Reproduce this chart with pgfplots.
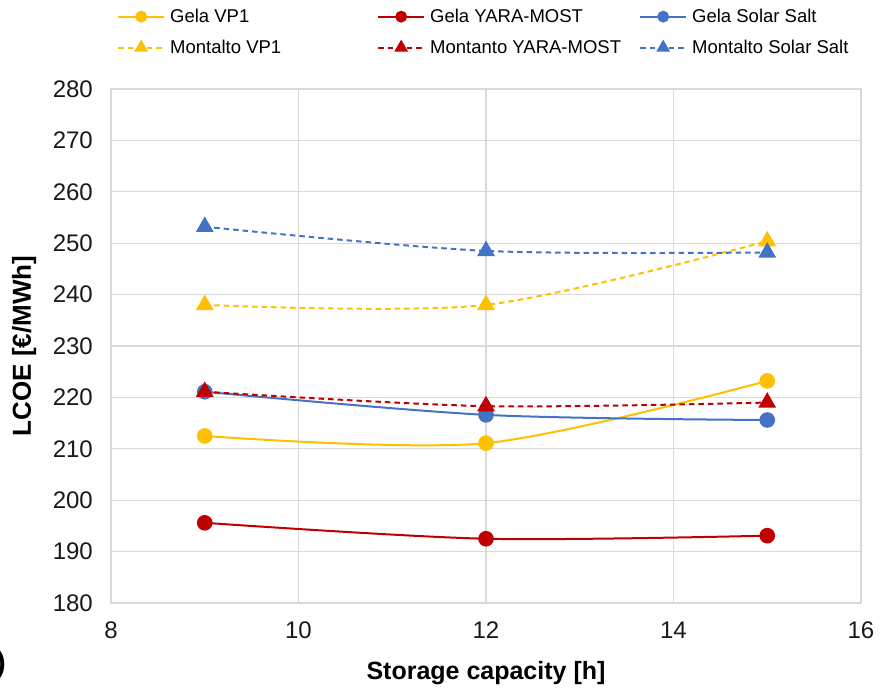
\documentclass[border=0pt]{standalone}
\usepackage{pgfplots}
\pgfplotsset{compat=1.18}
\usepackage{fontspec}
\setmainfont{Liberation Sans}
\definecolor{cgold}{HTML}{FFC000}
\definecolor{cred}{HTML}{C00000}
\definecolor{cblue}{HTML}{4472C4}
\definecolor{cgrid}{HTML}{D9D9D9}
\pgfplotsset{
 sol/.style={line width=2bp, smooth, mark=*, mark size=6.8bp},
 das/.style={line width=2bp, smooth, dash pattern=on 5.5bp off 4bp, mark=triangle*, mark size=8.3bp, mark options={solid}},
}
\begin{document}
\begin{tikzpicture}
\path (-111bp,-86bp) rectangle (769bp,603bp);
\begin{axis}[
 at={(0,0)}, anchor=south west,
 scale only axis, width=750bp, height=514bp,
 xmin=8, xmax=16, ymin=180, ymax=280,
 xtick={8,10,12,14,16}, ytick={180,190,...,280},
 grid=major, major grid style={cgrid, line width=1.2bp},
 axis line style={cgrid, line width=1.2bp},
 major tick length=0pt,
 /pgf/number format/assume math mode=true,
 ticklabel style={font=\fontsize{24bp}{28bp}\selectfont, inner sep=0pt, text=black!90},
 yticklabel style={xshift=-18bp},
 xticklabel style={yshift=-19bp},
 xlabel={\textbf{Storage capacity [h]}},
 ylabel={\textbf{LCOE [€/MWh]}},
 xlabel style={font=\fontsize{25bp}{30bp}\selectfont, at={(axis description cs:0.5,-0.1498)}, anchor=base, inner sep=0pt},
 ylabel style={font=\fontsize{26bp}{30bp}\selectfont, at={(axis description cs:-0.10667,0.5)}, anchor=base, inner sep=0pt},
 legend columns=3,
 legend style={draw=none, fill=none, at={(axis description cs:0.008,1.1556)}, anchor=north west, inner sep=0pt, nodes={inner sep=0pt}, font=\fontsize{18.5bp}{22bp}\selectfont, row sep=16bp, column sep=0pt},
 legend cell align=left,
 legend image code/.code={\draw[mark repeat=2,mark phase=2, every mark/.append style={scale=0.72}] plot coordinates {(0bp,0bp) (23bp,0bp) (46bp,0bp)};},
]
\addplot[cgold, sol] coordinates {(9,212.5) (12,211.1) (15,223.2)};
\addlegendentry{\hspace*{5bp}\makebox[207bp][l]{Gela VP1}}
\addplot[cred, sol] coordinates {(9,195.6) (12,192.5) (15,193.1)};
\addlegendentry{\hspace*{5bp}\makebox[209bp][l]{Gela YARA-MOST}}
\addplot[cblue, sol] coordinates {(9,221.1) (12,216.6) (15,215.6)};
\addlegendentry{\hspace*{5bp}Gela Solar Salt}
\addplot[cgold, das] coordinates {(9,238.0) (12,238.0) (15,250.4)};
\addlegendentry{\hspace*{5bp}\makebox[207bp][l]{Montalto VP1}}
\addplot[cred, das] coordinates {(9,221.1) (12,218.3) (15,219.0)};
\addlegendentry{\hspace*{5bp}\makebox[209bp][l]{Montanto YARA-MOST}}
\addplot[cblue, das] coordinates {(9,253.2) (12,248.5) (15,248.2)};
\addlegendentry{\hspace*{5bp}Montalto Solar Salt}
\end{axis}
\node[overlay, anchor=east, font=\bfseries\fontsize{30bp}{34bp}\selectfont, inner sep=0pt] at (-105bp,-62bp) {(a)};
\end{tikzpicture}
\end{document}
